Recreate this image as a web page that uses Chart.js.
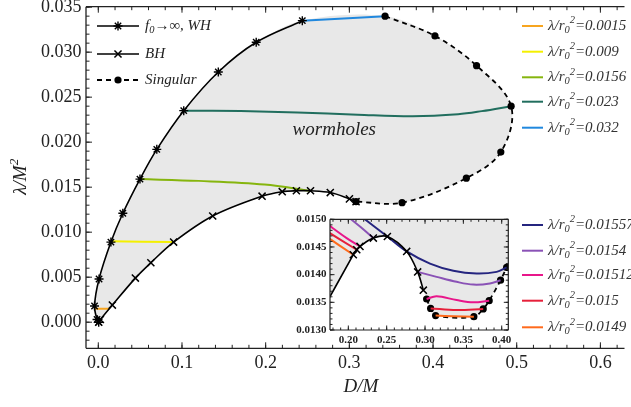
<!DOCTYPE html>
<html>
<head>
<meta charset="utf-8">
<script src="https://cdn.jsdelivr.net/npm/chart.js@4.4.0/dist/chart.umd.min.js"></script>
<style>
  html, body { margin: 0; padding: 0; background: #fff; }
  #wrap { position: relative; width: 631px; height: 407px; overflow: hidden; }
  #main { position: absolute; left: 0; top: 0; }
  #inset { position: absolute; left: 270px; top: 205px; }
</style>
</head>
<body>
<div id="wrap">
  <canvas id="main" width="631" height="407"></canvas>
  <canvas id="inset" width="250" height="155"></canvas>
</div>
<script>
// points are [D/M, lambda/M^2]; null breaks a line

// --- main panel ---
const whCurve = [
  [0.0005, 0.0000], [-0.0015, 0.0003], [-0.0045, 0.0018], [0.0009, 0.0048],
  [0.0151, 0.0089], [0.0293, 0.0121], [0.0498, 0.0159], [0.0699, 0.0192],
  [0.1021, 0.0235], [0.1434, 0.0278], [0.1887, 0.0311], [0.2438, 0.0335]
];
const bhCurve = [
  [0.0005, 0.0000], [0.0025, 0.0003], [0.0168, 0.0019], [0.0443, 0.0049],
  [0.0628, 0.0066], [0.0900, 0.0089], [0.1367, 0.0118], [0.1957, 0.0140],
  [0.2198, 0.0145], [0.2367, 0.0146], [0.2536, 0.0146], [0.2772, 0.0144],
  [0.3001, 0.0137], [0.3080, 0.01339]
];
const singCurve = [
  [0.3427, 0.0340], [0.4023, 0.0318], [0.4520, 0.0285], [0.4933, 0.0240],
  [0.4810, 0.0189], [0.4398, 0.0160], [0.3630, 0.01328], [0.3080, 0.01339]
];

const lam0015 = [[-0.0040, 0.0015], [0.0130, 0.0015]];
const lam009  = [[0.0151, 0.0090], [0.0900, 0.0089]];
const lam0156 = [[0.0498, 0.0159], [0.1200, 0.0157], [0.1986, 0.0153], [0.2536, 0.0146]];
const lam023  = [[0.1021, 0.0235], [0.1700, 0.02345], [0.2379, 0.0233], [0.3100, 0.02305],
                 [0.3757, 0.02288], [0.4300, 0.0231], [0.4583, 0.02345], [0.4933, 0.0240]];
const lam032  = [[0.2438, 0.0335], [0.3427, 0.0340]];

const mainLines  = [lam0015, lam009, lam0156, lam023, lam032];
const mainLabels = ['0.0015', '0.009', '0.0156', '0.023', '0.032'];
const mainColors = ['#f7a51f', '#f4f000', '#86b50e', '#216e5e', '#2088de'];

const xTickVals = [0, 0.1, 0.2, 0.3, 0.4, 0.5, 0.6];
const yTickVals = [0, 0.005, 0.010, 0.015, 0.020, 0.025, 0.030, 0.035];

// --- inset panel ---
const bhInset = [
  [0.1600, 0.0132], [0.2065, 0.01436], [0.2110, 0.01445], [0.2152, 0.01451],
  [0.2326, 0.01466], [0.2509, 0.01469], [0.2761, 0.01442], [0.2904, 0.01405],
  [0.2978, 0.01372]
];
const singInset = [
  [0.3021, 0.01356], [0.3073, 0.01339], [0.3138, 0.01326], [0.3637, 0.01324],
  [0.3759, 0.01338], [0.3837, 0.01353], [0.3985, 0.01390], [0.4064, 0.01413]
];
const lam01557 = [[0.2150, 0.01507], [0.2509, 0.01469], [0.2761, 0.01442], [0.3065, 0.01420],
                  [0.3369, 0.01407], [0.3673, 0.01402], [0.3934, 0.01405], [0.4064, 0.01413]];
const lam0154  = [[0.2000, 0.01504], [0.2160, 0.01486], [0.2326, 0.01466], null,
                  [0.2904, 0.01405], [0.3151, 0.01396], [0.3412, 0.01387], [0.3630, 0.01382],
                  [0.3846, 0.01384], [0.3985, 0.01390]];
const lam01512 = [[0.1700, 0.01494], [0.1978, 0.01466], [0.2152, 0.01451], null,
                  [0.3021, 0.01356], [0.3151, 0.01361], [0.3412, 0.01354], [0.3630, 0.01350],
                  [0.3837, 0.01353]];
const lam015   = [[0.1700, 0.01480], [0.2110, 0.01445], null,
                  [0.3073, 0.01339], [0.3412, 0.01336], [0.3759, 0.01338]];
const lam0149  = [[0.1700, 0.01470], [0.2065, 0.01436], null,
                  [0.3138, 0.01326], [0.3369, 0.01325], [0.3637, 0.01324]];

const insetLines  = [lam01557, lam0154, lam01512, lam015, lam0149];
const insetLabels = ['0.01557', '0.0154', '0.01512', '0.015', '0.0149'];
const insetColors = ['#25257f', '#8a52b6', '#e8168a', '#e6203a', '#ff6a1c'];

const insetXTicks = [0.20, 0.25, 0.30, 0.35, 0.40];
const insetYTicks = [0.0130, 0.0135, 0.0140, 0.0145, 0.0150];

const SERIF = '"Liberation Serif", "DejaVu Serif", serif';
const INK = '#222';
const REGION = '#e8e8e8';

function pts(arr) {
  return arr.map(p => p ? { x: p[0], y: p[1] } : { x: null, y: null });
}

function curve(data, color, extra) {
  return Object.assign({
    data: pts(data),
    showLine: true,
    borderColor: color,
    borderWidth: 2,
    pointRadius: 0,
    tension: 0.35,
    fill: false,
  }, extra);
}

function region(data) {
  return curve(data, 'rgba(0,0,0,0)', { fill: 'shape', backgroundColor: REGION, borderWidth: 0 });
}

const dashedSing = { borderWidth: 1.8, borderDash: [5, 4], pointRadius: 3.6,
  pointBackgroundColor: '#000', pointBorderColor: '#000', pointBorderWidth: 0 };
const crossPts = { borderWidth: 1.6, pointStyle: 'crossRot', pointRadius: 5,
  pointBorderColor: '#000', pointBorderWidth: 1.5 };
const starPts = { borderWidth: 1.6, pointStyle: 'star', pointRadius: 4.5,
  pointBorderColor: '#000', pointBorderWidth: 1.4 };

function range(from, to, step) {
  const out = [];
  for (let i = Math.ceil(from / step - 1e-9); i * step <= to + 1e-12; i++) out.push(i * step);
  return out;
}

// frame with inward ticks, Mathematica style
function drawAxes(chart, o) {
  const { ctx, chartArea: a, scales: { x, y } } = chart;
  ctx.save();
  ctx.strokeStyle = INK;
  ctx.lineWidth = o.frameWidth;
  ctx.beginPath();
  if (o.sides.includes('left'))   { ctx.moveTo(a.left, a.top);  ctx.lineTo(a.left, a.bottom); }
  if (o.sides.includes('right'))  { ctx.moveTo(a.right, a.top); ctx.lineTo(a.right, a.bottom); }
  if (o.sides.includes('top'))    { ctx.moveTo(a.left, a.top);  ctx.lineTo(a.right, a.top); }
  if (o.sides.includes('bottom')) { ctx.moveTo(a.left, a.bottom); ctx.lineTo(a.right, a.bottom); }
  ctx.stroke();

  ctx.lineWidth = 1;
  ctx.beginPath();
  const xTick = (v, len) => {
    const p = x.getPixelForValue(v);
    if (p < a.left - 0.5 || p > a.right + 0.5) return;
    ctx.moveTo(p, a.bottom); ctx.lineTo(p, a.bottom - len);
    if (o.sides.includes('top')) { ctx.moveTo(p, a.top); ctx.lineTo(p, a.top + len); }
  };
  const yTick = (v, len) => {
    const p = y.getPixelForValue(v);
    if (p < a.top - 0.5 || p > a.bottom + 0.5) return;
    ctx.moveTo(a.left, p); ctx.lineTo(a.left + len, p);
    if (o.sides.includes('right')) { ctx.moveTo(a.right, p); ctx.lineTo(a.right - len, p); }
  };
  range(x.min, x.max, o.xMinor).forEach(v => xTick(v, o.minorLen));
  range(y.min, y.max, o.yMinor).forEach(v => yTick(v, o.minorLen));
  o.xTicks.forEach(v => xTick(v, o.majorLen));
  o.yTicks.forEach(v => yTick(v, o.majorLen));
  ctx.stroke();

  ctx.fillStyle = INK;
  ctx.font = o.font;
  ctx.textBaseline = 'middle';
  ctx.textAlign = 'center';
  o.xTicks.forEach(v => ctx.fillText(v.toFixed(o.xDigits), x.getPixelForValue(v), a.bottom + o.xGap));
  ctx.textAlign = 'right';
  o.yTicks.forEach(v => ctx.fillText(v.toFixed(o.yDigits), a.left - o.yGap, y.getPixelForValue(v)));
  ctx.restore();
}

// text with sub/superscript pieces
function richText(ctx, x, y, parts, size, italic) {
  ctx.textAlign = 'left';
  ctx.textBaseline = 'middle';
  parts.forEach(p => {
    const small = p.sub || p.sup;
    const s = small ? size * 0.7 : size;
    ctx.font = `${italic ? 'italic ' : ''}${s}px ${SERIF}`;
    const dy = p.sub ? size * 0.28 : p.sup ? -size * 0.36 : 0;
    ctx.fillText(p.t, x, y + dy);
    x += ctx.measureText(p.t).width;
  });
  return x;
}

function lambdaParts(val) {
  return [{ t: 'λ/r' }, { t: '0', sub: true }, { t: '2', sup: true }, { t: '=' + val }];
}

function legendLine(ctx, x0, x1, y, color, width, dash) {
  ctx.save();
  ctx.strokeStyle = color;
  ctx.lineWidth = width;
  ctx.setLineDash(dash || []);
  ctx.beginPath();
  ctx.moveTo(x0, y);
  ctx.lineTo(x1, y);
  ctx.stroke();
  ctx.restore();
}

function legendMarker(ctx, style, radius, bw, x, y) {
  ctx.save();
  ctx.fillStyle = '#000';
  ctx.strokeStyle = '#000';
  ctx.lineWidth = bw;
  Chart.helpers.drawPoint(ctx, { pointStyle: style, radius: radius, rotation: 0, borderWidth: bw }, x, y);
  ctx.restore();
}

const mainDecor = {
  id: 'mainDecor',
  afterDraw(chart) {
    const { ctx, scales: { x, y } } = chart;
    drawAxes(chart, {
      sides: ['left', 'top', 'bottom'], frameWidth: 1.3, majorLen: 6, minorLen: 3.5,
      xTicks: xTickVals, yTicks: yTickVals, xMinor: 0.02, yMinor: 0.001,
      xDigits: 1, yDigits: 3, xGap: 15, yGap: 4.5, font: `18px ${SERIF}`,
    });

    ctx.save();
    ctx.fillStyle = INK;

    // axis titles
    ctx.font = `italic 19px ${SERIF}`;
    ctx.textAlign = 'center';
    ctx.textBaseline = 'middle';
    ctx.fillText('D/M', 361, 387);
    ctx.save();
    ctx.translate(21, 176);
    ctx.rotate(-Math.PI / 2);
    ctx.font = `italic 19px ${SERIF}`;
    const tw = ctx.measureText('λ/M').width + 8;
    richText(ctx, -tw / 2, 0, [{ t: 'λ/M' }, { t: '2', sup: true }], 19, true);
    ctx.restore();

    // region label
    ctx.font = `italic 19px ${SERIF}`;
    ctx.textAlign = 'center';
    ctx.fillText('wormholes', x.getPixelForValue(0.282), y.getPixelForValue(0.0213));

    // curve legend, top left
    legendLine(ctx, 97, 139, 26, '#000', 1.6);
    legendMarker(ctx, 'star', 4.5, 1.4, 118, 26);
    richText(ctx, 145, 26, [{ t: 'f' }, { t: '0', sub: true }, { t: '→∞, WH' }], 15, true);
    legendLine(ctx, 97, 139, 54, '#000', 1.6);
    legendMarker(ctx, 'crossRot', 5, 1.5, 118, 54);
    richText(ctx, 145, 54, [{ t: 'BH' }], 15, true);
    legendLine(ctx, 97, 139, 80, '#000', 1.8, [5, 4]);
    legendMarker(ctx, 'circle', 3.6, 0, 118, 80);
    richText(ctx, 145, 80, [{ t: 'Singular' }], 15, true);

    // lambda legends on the right
    ctx.fillStyle = '#333';
    const rowsTop = [26, 51.7, 77.3, 101.7, 127.7];
    const rowsLow = [225, 250.7, 275, 300.7, 327.3];
    mainLabels.forEach((lab, i) => {
      legendLine(ctx, 522, 543, rowsTop[i], mainColors[i], 2);
      richText(ctx, 548, rowsTop[i], lambdaParts(lab), 15, true);
    });
    insetLabels.forEach((lab, i) => {
      legendLine(ctx, 522, 543, rowsLow[i], insetColors[i], 2);
      richText(ctx, 548, rowsLow[i], lambdaParts(lab), 15, true);
    });
    ctx.restore();
  }
};

new Chart(document.getElementById('main'), {
  type: 'scatter',
  data: {
    datasets: [
      curve(singCurve, '#000', dashedSing),
      curve(whCurve, '#000', starPts),
      curve(bhCurve, '#000', crossPts),
      ...mainLines.map((d, i) => curve(d, mainColors[i])),
      region([...whCurve, ...singCurve, ...bhCurve.slice().reverse().slice(1, -1)]),
    ]
  },
  options: {
    responsive: false,
    animation: false,
    devicePixelRatio: 1,
    events: [],
    layout: { padding: { top: 6.7, right: 0, bottom: 0, left: 0 } },
    plugins: { legend: { display: false }, tooltip: { enabled: false } },
    scales: {
      x: {
        type: 'linear', min: -0.0147, max: 0.6288,
        grid: { display: false }, border: { display: false }, ticks: { display: false },
        afterFit: s => { s.height = 407 - 348.3; }
      },
      y: {
        type: 'linear', min: -0.0029, max: 0.03505,
        grid: { display: false }, border: { display: false }, ticks: { display: false },
        afterFit: s => { s.width = 86; }
      }
    }
  },
  plugins: [mainDecor]
});

// --- Inset ----------------------------------------------------------
const insetDecor = {
  id: 'insetDecor',
  beforeDatasetsDraw(chart) {
    const { ctx, chartArea: a } = chart;
    ctx.save();
    ctx.fillStyle = '#fff';
    ctx.fillRect(a.left, a.top, a.right - a.left, a.bottom - a.top);
    ctx.restore();
  },
  afterDraw(chart) {
    drawAxes(chart, {
      sides: ['left', 'right', 'top', 'bottom'], frameWidth: 1.2, majorLen: 4.5, minorLen: 2.5,
      xTicks: insetXTicks, yTicks: insetYTicks, xMinor: 0.01, yMinor: 0.0001,
      xDigits: 2, yDigits: 4, xGap: 10.5, yGap: 3.5, font: `bold 11px ${SERIF}`,
    });
  }
};

const insetFill = [...bhInset, ...singInset, [0.43, 0.0142], [0.43, 0.0156], [0.16, 0.0156]];

new Chart(document.getElementById('inset'), {
  type: 'scatter',
  data: {
    datasets: [
      curve(bhInset, '#000', Object.assign({}, crossPts, { clip: 0 })),
      ...insetLines.map((d, i) => curve(d, insetColors[i], { clip: 0 })),
      curve(singInset, '#000', Object.assign({}, dashedSing, { clip: 0 })),
      Object.assign(region(insetFill), { clip: 0 }),
    ]
  },
  options: {
    responsive: false,
    animation: false,
    devicePixelRatio: 1,
    events: [],
    layout: { padding: { top: 14.3, right: 11.7, bottom: 0, left: 0 } },
    plugins: { legend: { display: false }, tooltip: { enabled: false } },
    scales: {
      x: {
        type: 'linear', min: 0.1761, max: 0.4086,
        grid: { display: false }, border: { display: false }, ticks: { display: false },
        afterFit: s => { s.height = 30; }
      },
      y: {
        type: 'linear', min: 0.0130, max: 0.0150,
        grid: { display: false }, border: { display: false }, ticks: { display: false },
        afterFit: s => { s.width = 60; }
      }
    }
  },
  plugins: [insetDecor]
});
</script>
</body>
</html>
